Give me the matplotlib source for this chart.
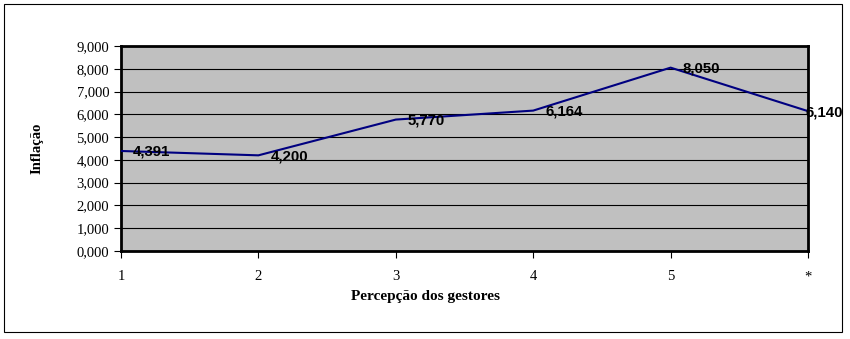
import matplotlib.pyplot as plt
from matplotlib.patches import Rectangle

categorias = ['1', '2', '3', '4', '5', '*']
inflacao = [4.391, 4.200, 5.770, 6.164, 8.050, 6.140]
rotulos = ['4,391', '4,200', '5,770', '6,164', '8,050', '6,140']
yticks = [0, 1, 2, 3, 4, 5, 6, 7, 8, 9]
ytick_labels = ['0,000', '1,000', '2,000', '3,000', '4,000', '5,000',
                '6,000', '7,000', '8,000', '9,000']

fig = plt.figure(figsize=(8.5, 3.39), dpi=100)
fig.patches.append(Rectangle((4 / 850, 7 / 339), 838 / 850, 328 / 339,
                             transform=fig.transFigure, fill=False,
                             edgecolor='black', linewidth=0.8))

ax = fig.add_axes([121 / 850, 88 / 339, 687 / 850, 205 / 339])
ax.set_facecolor('#c0c0c0')

x = list(range(len(categorias)))
ax.plot(x, inflacao, color='#000080', linewidth=1.5, zorder=3)

for i, (xi, yi, txt) in enumerate(zip(x, inflacao, rotulos)):
    dx = -3 if i == len(x) - 1 else 12
    ax.annotate(txt, (xi, yi), xytext=(dx, -1), textcoords='offset pixels',
                ha='left', va='center', fontsize=10.8, fontweight='bold',
                family='Liberation Sans', color='black', zorder=4,
                annotation_clip=False)

ax.set_xlim(0, 5)
ax.set_ylim(0, 9)
ax.set_xticks(x)
ax.set_xticklabels(categorias, family='Liberation Serif', fontsize=10.5)
ax.set_yticks(yticks)
ax.set_yticklabels(ytick_labels, family='Liberation Serif', fontsize=10.5)
ax.tick_params(axis='both', direction='out', length=5, width=0.8, color='black')
ax.tick_params(axis='x', pad=9)
ax.grid(axis='y', color='black', linewidth=0.8)
ax.set_axisbelow(True)
for s in ax.spines.values():
    s.set_linewidth(2)

ax.set_xlabel('Percepção dos gestores', family='Liberation Serif',
              fontweight='bold', fontsize=11, labelpad=4)
ax.xaxis.set_label_coords(0.443, -0.19)
ax.set_ylabel('Inflação', family='Liberation Serif', fontweight='bold',
              fontsize=10.5, labelpad=24)

fig.savefig('out.png', dpi=100)
